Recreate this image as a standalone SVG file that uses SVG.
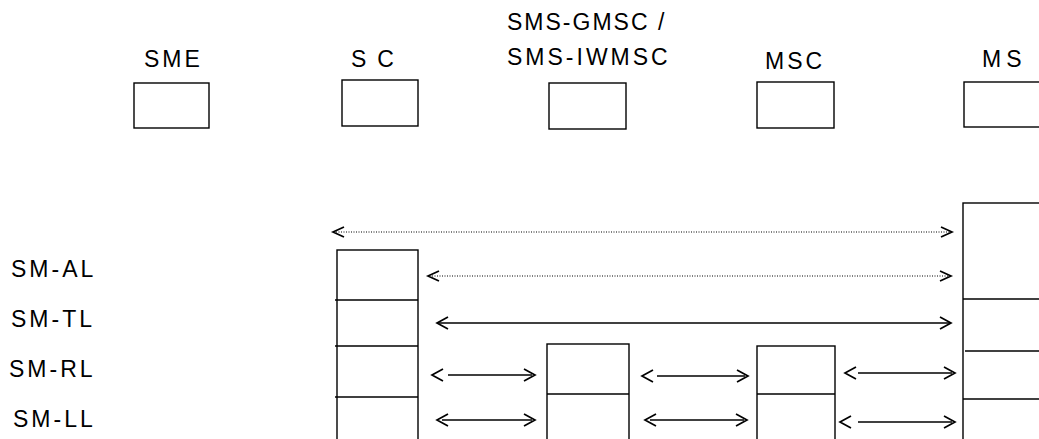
<svg xmlns="http://www.w3.org/2000/svg" width="1039" height="439" viewBox="0 0 1039 439">
<style>
.bg{fill:#fff}
.box{fill:#fff;stroke:#000;stroke-width:1.4}
.div{stroke:#000;stroke-width:1.4}
.lbl{font-family:"Liberation Sans",Arial,sans-serif;font-size:23px;fill:#000;letter-spacing:3px}
.sol{stroke:#000;stroke-width:1.4;fill:none}
.dot{stroke:#000;stroke-width:1;stroke-dasharray:1 1.5;fill:none}
.chev{stroke:#000;stroke-width:1.7;fill:none}
</style>
<rect class="bg" x="0" y="0" width="1039" height="439"/>
<g id="node-sme">
<text class="lbl" x="144" y="67">SME</text>
<rect class="box" x="134" y="83" width="75" height="45"/>
</g>
<g id="node-sc">
<text class="lbl" x="351" y="67" style="letter-spacing:11px">SC</text>
<rect class="box" x="342" y="80" width="76" height="46"/>
</g>
<g id="node-gmsc">
<text class="lbl" x="507" y="30" style="letter-spacing:2px">SMS-GMSC /</text>
<text class="lbl" x="507" y="65">SMS-IWMSC</text>
<rect class="box" x="549" y="83" width="77" height="46"/>
</g>
<g id="node-msc">
<text class="lbl" x="765" y="69">MSC</text>
<rect class="box" x="757" y="82" width="77" height="46"/>
</g>
<g id="node-ms">
<text class="lbl" x="982" y="67" style="letter-spacing:5px">MS</text>
<rect class="box" x="964" y="82" width="90" height="45"/>
</g>
<g id="layer-labels">
<text class="lbl" x="11" y="277">SM-AL</text>
<text class="lbl" x="11" y="327">SM-TL</text>
<text class="lbl" x="9" y="377">SM-RL</text>
<text class="lbl" x="13" y="427">SM-LL</text>
</g>
<g id="stack-sc">
<rect class="box" x="337" y="250" width="81" height="200"/>
<line class="div" x1="335" y1="300" x2="418" y2="300"/>
<line class="div" x1="335" y1="346" x2="418" y2="346"/>
<line class="div" x1="335" y1="397" x2="418" y2="397"/>
</g>
<g id="stack-gmsc">
<rect class="box" x="547" y="344" width="82" height="110"/>
<line class="div" x1="547" y1="394" x2="629" y2="394"/>
</g>
<g id="stack-msc">
<rect class="box" x="757" y="346" width="78" height="110"/>
<line class="div" x1="757" y1="394" x2="835" y2="394"/>
</g>
<g id="stack-ms">
<rect class="box" x="963" y="203" width="90" height="250"/>
<line class="div" x1="963" y1="299" x2="1039" y2="299"/>
<line class="div" x1="965" y1="351" x2="1039" y2="351"/>
<line class="div" x1="963" y1="399" x2="1039" y2="399"/>
</g>
<g id="connectors">
<line class="dot" x1="336" y1="232" x2="950" y2="232"/>
<polyline class="chev" points="344,227 333,232 344,237"/>
<polyline class="chev" points="941,227 952,232 941,237"/>
<line class="dot" x1="432" y1="276" x2="949" y2="276"/>
<polyline class="chev" points="439,271 428,276 439,281"/>
<polyline class="chev" points="940,271 951,276 940,281"/>
<line class="sol" x1="438" y1="323" x2="950" y2="323"/>
<polyline class="chev" points="448,317 437,323 448,329"/>
<polyline class="chev" points="940,317 951,323 940,329"/>
<line class="sol" x1="448" y1="375" x2="532" y2="375"/>
<polyline class="chev" points="443,369 432,375 443,381"/>
<polyline class="chev" points="524,369 535,375 524,381"/>
<line class="sol" x1="657" y1="376" x2="745" y2="376"/>
<polyline class="chev" points="653,370 642,376 653,382"/>
<polyline class="chev" points="737,370 748,376 737,382"/>
<line class="sol" x1="858" y1="373" x2="952" y2="373"/>
<polyline class="chev" points="856,367 845,373 856,379"/>
<polyline class="chev" points="944,367 955,373 944,379"/>
<line class="sol" x1="442" y1="420" x2="532" y2="420"/>
<polyline class="chev" points="448,414 437,420 448,426"/>
<polyline class="chev" points="524,414 535,420 524,426"/>
<line class="sol" x1="650" y1="420" x2="744" y2="420"/>
<polyline class="chev" points="656,414 645,420 656,426"/>
<polyline class="chev" points="736,414 747,420 736,426"/>
<line class="sol" x1="858" y1="422" x2="952" y2="422"/>
<polyline class="chev" points="851,416 840,422 851,428"/>
<polyline class="chev" points="944,416 955,422 944,428"/>
</g>
</svg>
